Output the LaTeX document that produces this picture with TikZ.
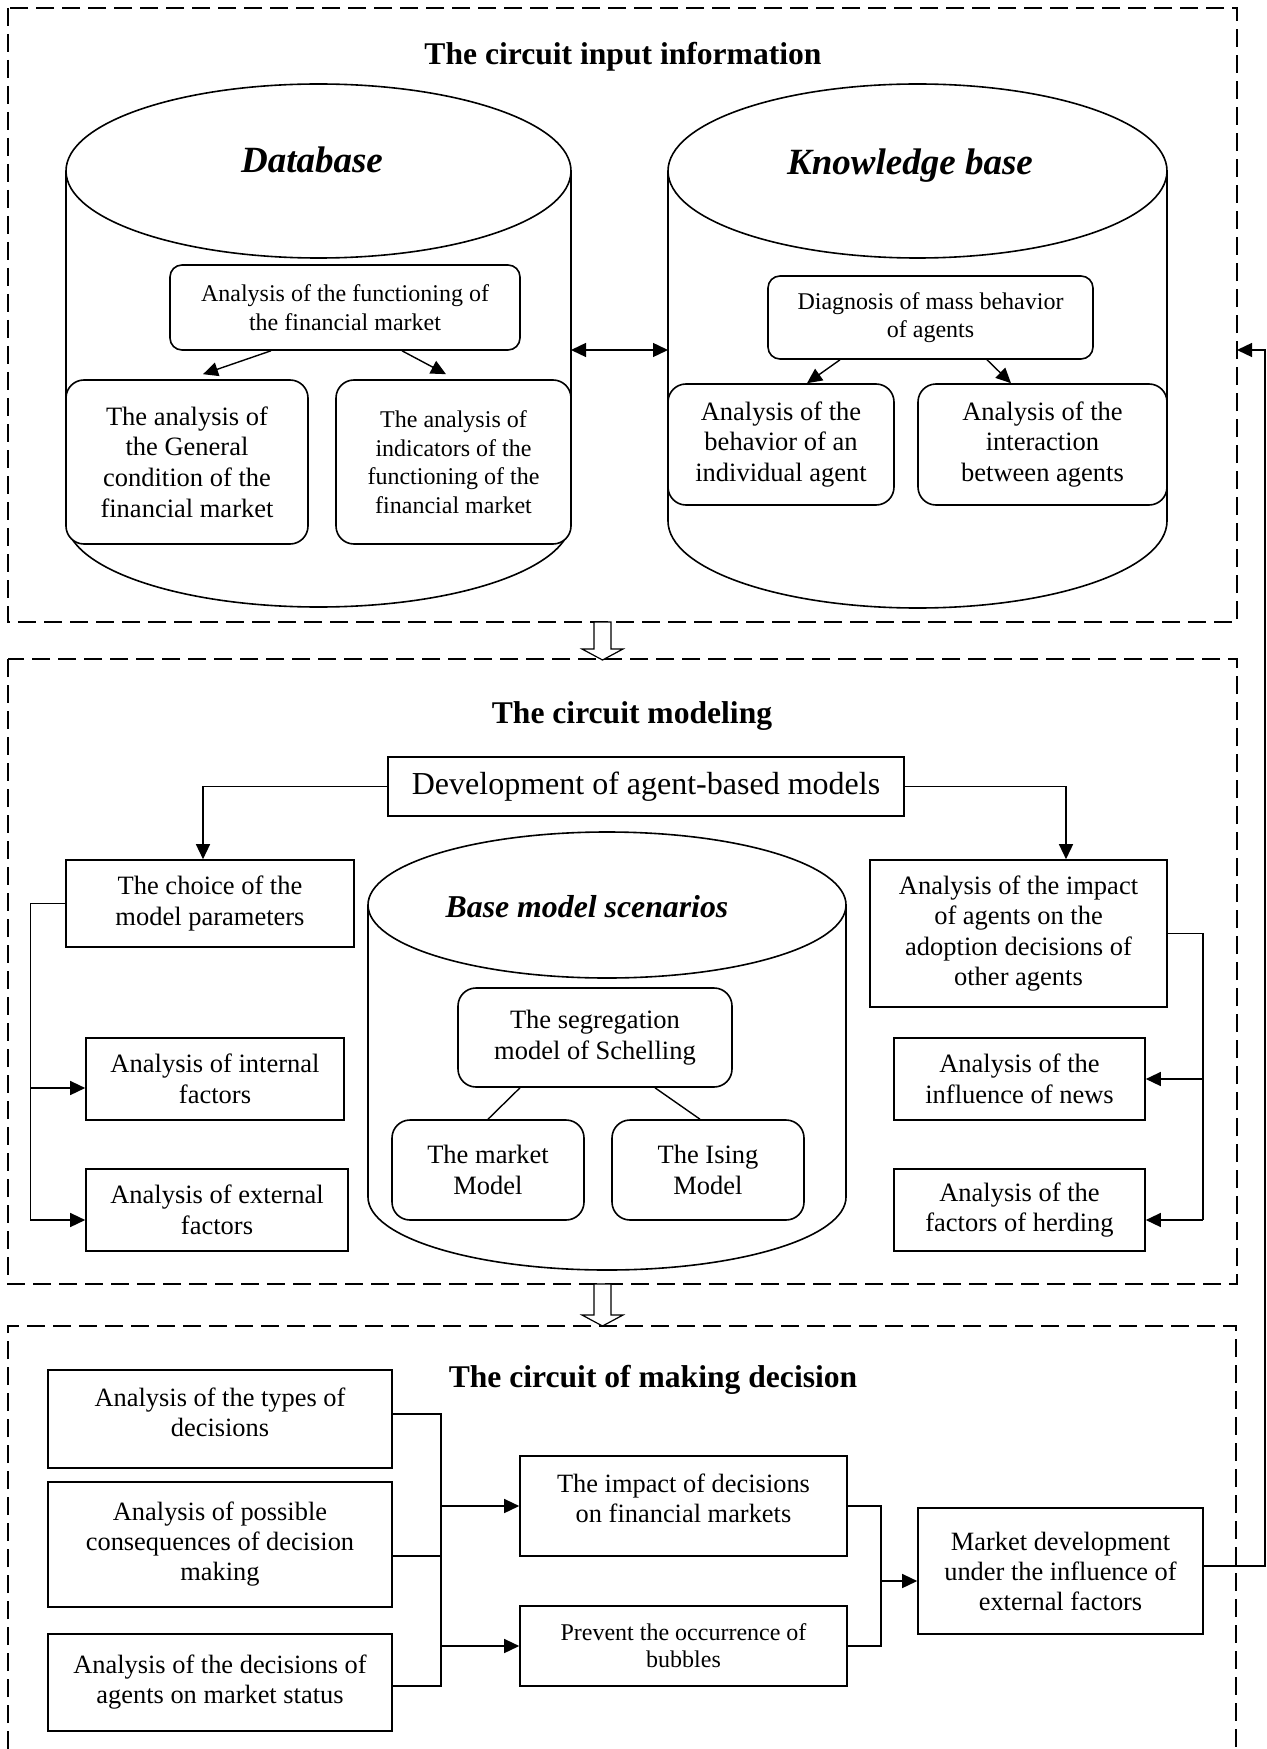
\documentclass[tikz,border=0pt]{standalone}
\usepackage{fontspec}
\setmainfont{Liberation Serif}
\usetikzlibrary{arrows.meta,calc}
\newcommand\mkbox[7]{\node[#6, minimum width={(#4-#2)*0.5pt}, minimum height={(#5-#3)*0.5pt}] (#1) at ({(#2+#4)/2},{(#3+#5)/2}) {#7};}
\begin{document}
\begin{tikzpicture}[x=0.5pt,y=-0.5pt,
  box/.style={draw, line width=0.8pt, fill=white, align=center, inner sep=0pt},
  rbox/.style={box, rounded corners=9pt},
  sbox/.style={box, rounded corners=6pt},
  dashbox/.style={draw, line width=1.35pt, dash pattern=on 9pt off 4pt},
  cyl/.style={draw, line width=0.8pt},
  conn/.style={line width=0.7pt},
  arr/.style={conn, -{Triangle[length=7.5pt,width=7pt]}},
  barr/.style={conn, {Triangle[length=7.5pt,width=7pt]}-{Triangle[length=7.5pt,width=7pt]}},
  hollow/.style={draw, line width=0.6pt, fill=white},
  ttl/.style={font=\fontsize{15.8}{18}\selectfont\bfseries, anchor=base},
  cylt/.style={font=\fontsize{18.5}{20}\selectfont\bfseries\itshape, anchor=base},
  txt/.style={align=center, inner sep=0pt},
  fa/.style={font=\fontsize{12}{14.3}\selectfont},
  fb/.style={font=\fontsize{13.25}{15.3}\selectfont},
  fc/.style={font=\fontsize{13.2}{15}\selectfont},
  fd/.style={font=\fontsize{12}{13.5}\selectfont},
  fdev/.style={font=\fontsize{16}{18}\selectfont},
]
\useasboundingbox (0,0) rectangle (1266,1749);

% dashed sections
\draw[dashbox] (8,8) rectangle (1237,622);
\draw[dashbox] (8,659) rectangle (1237,1284);
\draw[dashbox] (8,1749) -- (8,1326) -- (1236,1326) -- (1236,1749);
\coordinate (fbin) at (1237,350);

% hollow arrows
\draw[hollow] (594,622) -- (611,622) -- (611,649) -- (623,649) -- (602.5,660) -- (582,649) -- (594,649) -- cycle;
\draw[hollow] (594,1284) -- (611,1284) -- (611,1315) -- (623,1315) -- (602.5,1326) -- (582,1315) -- (594,1315) -- cycle;

% titles
\node[ttl] (t1) at (623,65) {The circuit input information};
\node[ttl] (t2) at (632,723) {The circuit modeling};
\node[ttl] (t3) at (653,1387) {The circuit of making decision};

% cylinders
\draw[cyl] (318.5,171) ellipse [x radius=126.25pt, y radius=43.5pt];
\draw[cyl] (66,171) -- (66,520) arc[start angle=180, end angle=360, x radius=126.25pt, y radius=43.5pt] -- (571,171);
\draw[cyl] (917.5,171) ellipse [x radius=124.75pt, y radius=43.5pt];
\draw[cyl] (668,171) -- (668,521) arc[start angle=180, end angle=360, x radius=124.75pt, y radius=43.5pt] -- (1167,171);
\draw[cyl] (607,905) ellipse [x radius=119.5pt, y radius=36.5pt];
\draw[cyl] (368,905) -- (368,1197) arc[start angle=180, end angle=360, x radius=119.5pt, y radius=36.5pt] -- (846,905);
\coordinate (dbside) at (571,350);
\coordinate (kbside) at (668,350);

\node[cylt] (dbt) at (312,173) {Database};
\node[cylt] (kbt) at (910,175) {Knowledge base};
\node[font=\fontsize{15.9}{18}\selectfont\bfseries\itshape, anchor=base] (bmt) at (587,917) {Base model scenarios};

% section 1 boxes
\mkbox{dbtop}{170}{265}{520}{350}{sbox,fa}{Analysis of the functioning of\\the financial market}
\mkbox{dbl}{66}{380}{308}{544}{rbox,fb}{The analysis of\\the General\\condition of the\\financial market}
\mkbox{dbr}{336}{380}{571}{544}{rbox,fa}{The analysis of\\indicators of the\\functioning of the\\financial market}
\mkbox{kbtop}{768}{276}{1093}{359}{sbox,fa}{Diagnosis of mass behavior\\of agents}
\mkbox{kbl}{668}{384}{894}{505}{rbox,fb}{Analysis of the\\behavior of an\\individual agent}
\mkbox{kbr}{918}{384}{1167}{505}{rbox,fb}{Analysis of the\\interaction\\between agents}

\draw[arr] ([xshift=-37pt]dbtop.south) -- ([xshift=8pt,yshift=2.5pt]dbl.north);
\draw[arr] ([xshift=28.5pt]dbtop.south) -- ([xshift=-3.75pt,yshift=2.5pt]dbr.north);
\draw[arr] ([xshift=-45.25pt]kbtop.south) -- ([xshift=13pt]kbl.north);
\draw[arr] ([xshift=28.25pt]kbtop.south) -- ([xshift=-15.75pt]kbr.north);
\draw[barr] (dbside) -- (kbside);

% section 2 boxes
\mkbox{dev}{388}{757}{904}{816}{box,fdev}{Development of agent-based models}
\mkbox{choice}{66}{860}{354}{947}{box,fb}{The choice of the\\model parameters}
\mkbox{internal}{86}{1038}{344}{1120}{box,fb}{Analysis of internal\\factors}
\mkbox{external}{86}{1169}{348}{1251}{box,fb}{Analysis of external\\factors}
\mkbox{impact}{870}{860}{1167}{1007}{box,fb}{Analysis of the impact\\of agents on the\\adoption decisions of\\other agents}
\mkbox{news}{894}{1038}{1145}{1120}{box,fb}{Analysis of the\\influence of news}
\mkbox{herding}{894}{1169}{1145}{1251}{box,fb}{Analysis of the\\factors of herding}
\mkbox{seg}{458}{988}{732}{1087}{rbox,fb}{The segregation\\model of Schelling}
\mkbox{mkt}{392}{1120}{584}{1220}{rbox,fb}{The market\\Model}
\mkbox{ising}{612}{1120}{804}{1220}{rbox,fb}{The Ising\\Model}

\coordinate (inIn) at ([yshift=-4.5pt]internal.west);
\coordinate (inEx) at ([yshift=-5pt]external.west);
\coordinate (inHe) at ([yshift=-5pt]herding.east);
\draw[arr] (dev.west) -| ([xshift=-3.5pt]choice.north);
\draw[arr] (dev.east) -| ([xshift=23.75pt]impact.north);
\draw[conn] (choice.west) -- ++(-35,0) coordinate (ca) -- (ca |- inEx);
\draw[arr] (ca |- inIn) -- (inIn);
\draw[arr] (ca |- inEx) -- (inEx);
\draw[conn] (impact.east) -- ++(35,0) coordinate (cb) -- (cb |- inHe);
\draw[arr] (cb |- news.east) -- (news.east);
\draw[arr] (cb |- inHe) -- (inHe);
\draw[conn] ([xshift=-37.5pt]seg.south) -- (mkt.north);
\draw[conn] ([xshift=30pt]seg.south) -- ([xshift=-4pt]ising.north);

% section 3 boxes
\mkbox{types}{48}{1370}{392}{1468}{box}{}
\node[txt,fc] (typest) at ([yshift=3.5pt]types.center) {Analysis of the types of\\decisions};
\mkbox{poss}{48}{1482}{392}{1607}{box,fc}{Analysis of possible\\consequences of decision\\making}
\mkbox{decs}{48}{1634}{392}{1731}{box,fc}{Analysis of the decisions of\\agents on market status}
\mkbox{imp2}{520}{1456}{847}{1556}{box}{}
\node[txt,fc] (imp2t) at ([yshift=4pt]imp2.center) {The impact of decisions\\on financial markets};
\mkbox{prev}{520}{1606}{847}{1686}{box,fd}{Prevent the occurrence of\\bubbles}
\mkbox{mdev}{918}{1508}{1203}{1634}{box,fc}{Market development\\under the influence of\\external factors}

\coordinate (outTy) at ([yshift=2.5pt]types.east);
\coordinate (outPo) at ([yshift=-5.75pt]poss.east);
\coordinate (outDe) at ([yshift=-1.75pt]decs.east);
\coordinate (inMd) at ([yshift=-5pt]mdev.west);
\coordinate (outMd) at ([yshift=2.5pt]mdev.east);
\draw[conn] (outTy) -- ++(48,0) coordinate (ja) -- (ja |- outDe) -- (outDe);
\draw[conn] (outPo) -- (outPo -| ja);
\draw[arr] (ja |- imp2.west) -- (imp2.west);
\draw[arr] (ja |- prev.west) -- (prev.west);
\draw[conn] (imp2.east) -- ++(33,0) coordinate (jc) -- (jc |- prev.east) -- (prev.east);
\draw[arr] (jc |- inMd) -- (inMd);
\draw[arr] (outMd) -- ++(61,0) |- (fbin);
\end{tikzpicture}
\end{document}
